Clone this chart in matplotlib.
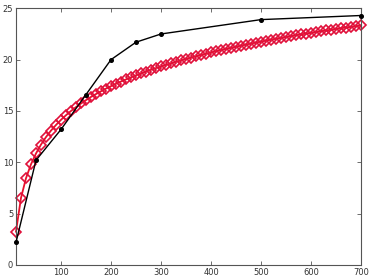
import matplotlib
matplotlib.use("Agg")
import matplotlib.pyplot as plt

# Black series (sparse samples)
black_x = [10, 50, 100, 150, 200, 250, 300, 500, 700]
black_y = [2.2, 10.2, 13.2, 16.6, 20.0, 21.7, 22.5, 23.9, 24.3]

# Red series (dense samples)
red_x = [10, 20, 30, 40, 50, 60, 70, 80, 90, 100,
         110, 120, 130, 140, 150, 160, 170, 180, 190, 200,
         210, 220, 230, 240, 250, 260, 270, 280, 290, 300,
         310, 320, 330, 340, 350, 360, 370, 380, 390, 400,
         410, 420, 430, 440, 450, 460, 470, 480, 490, 500,
         510, 520, 530, 540, 550, 560, 570, 580, 590, 600,
         610, 620, 630, 640, 650, 660, 670, 680, 690, 700]
red_y = [3.25, 6.53, 8.45, 9.81, 10.86, 11.73, 12.46, 13.09, 13.64, 14.14,
         14.59, 15.00, 15.38, 15.73, 16.06, 16.37, 16.65, 16.92, 17.18, 17.42,
         17.65, 17.87, 18.08, 18.28, 18.48, 18.66, 18.84, 19.01, 19.18, 19.34,
         19.49, 19.64, 19.79, 19.93, 20.07, 20.20, 20.33, 20.46, 20.58, 20.70,
         20.82, 20.94, 21.05, 21.16, 21.26, 21.37, 21.47, 21.57, 21.67, 21.76,
         21.86, 21.95, 22.04, 22.12, 22.21, 22.29, 22.38, 22.46, 22.54, 22.62,
         22.69, 22.77, 22.84, 22.92, 22.99, 23.06, 23.13, 23.20, 23.26, 23.33]

x_ticks = [100, 200, 300, 400, 500, 600, 700]
y_ticks = [0, 5, 10, 15, 20, 25]

fig = plt.figure(figsize=(3.77, 2.79), dpi=100)
ax = fig.add_axes([0.0424, 0.0502, 0.9152, 0.920])

ax.plot(red_x, red_y, color="#e8102a", lw=1.3, marker="D", markersize=4.6,
        markerfacecolor="none", markeredgecolor="#e0103a", markeredgewidth=1.2,
        zorder=2, clip_on=False)
ax.plot(black_x, black_y, color="black", lw=1.0, marker="o", markersize=2.6,
        markerfacecolor="black", zorder=3, clip_on=False)

ax.set_xlim(10, 700)
ax.set_ylim(0, 25)
ax.set_xticks(x_ticks)
ax.set_yticks(y_ticks)
ax.tick_params(direction="in", top=True, right=True, length=3, width=0.6,
               labelsize=6, colors="#555555", labelcolor="#333333", pad=2)
for s in ax.spines.values():
    s.set_color("#555555")
    s.set_linewidth(0.8)

fig.savefig("out.png", dpi=100)
